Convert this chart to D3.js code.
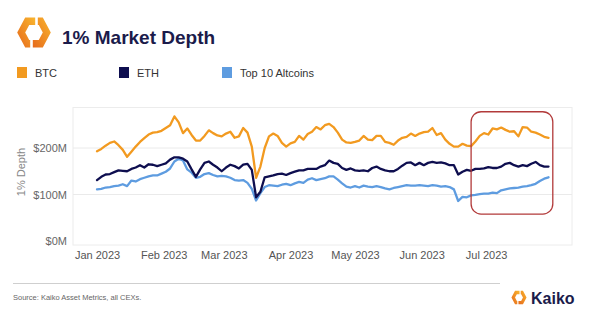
<!DOCTYPE html>
<html>
<head>
<meta charset="utf-8">
<script src="https://cdn.jsdelivr.net/npm/d3@7"></script>
<style>
  html, body { margin: 0; padding: 0; background: #fff; }
  svg { display: block; font-family: "Liberation Sans", Arial, sans-serif; }
</style>
</head>
<body>
<svg id="chart" width="600" height="328"></svg>
<script>
// ---- data (every 2 days from 1 Jan 2023) ----
const startDate = "2023-01-01";
const stepDays = 2;
const seriesNames = ["BTC", "ETH", "Top 10 Altcoins"];
const seriesColors = ["#f29a20", "#0e0e4f", "#5e9ce0"];
const btc = [193,198,205,211,214,206,196,181,192,203,213,221,229,233,234,237,243,249,268,255,
  232,242,228,216,216,226,238,232,227,225,231,235,222,225,243,233,203,136,160,200,
  225,231,226,211,203,210,213,226,218,230,235,245,240,249,252,245,233,218,212,211,
  213,216,226,218,217,226,226,213,211,207,216,222,224,231,226,231,234,235,243,228,
  232,218,209,203,203,209,205,204,214,226,232,229,242,240,244,239,235,236,225,245,
  244,235,233,229,224,222];
const eth = [131,138,143,144,148,152,151,150,155,158,163,158,165,164,161,164,167,175,180,180,
  177,171,154,138,154,168,171,164,158,150,158,164,161,156,164,166,153,94,106,137,
  139,141,144,145,142,146,149,152,152,155,155,155,160,163,173,168,166,157,153,156,
  152,151,152,150,157,160,155,152,150,150,155,162,168,169,163,168,163,168,170,168,
  169,167,163,163,143,149,153,151,155,155,156,159,157,157,160,166,168,163,160,163,
  161,166,170,163,160,160];
const alts = [111,112,115,116,118,119,122,118,130,128,133,136,139,141,141,145,149,156,171,177,
  173,154,147,136,138,144,146,142,139,140,139,136,131,130,131,125,112,87,103,116,
  120,119,118,121,123,120,124,127,125,132,135,131,133,135,139,139,132,124,117,115,
  118,115,119,117,116,118,116,113,111,114,116,118,120,119,119,120,119,118,120,119,
  117,118,116,111,86,95,94,98,99,101,102,102,104,103,109,111,113,114,115,117,
  118,120,123,129,134,137];
const yTicks = [0, 100, 200];
const xTickDates = ["2023-01-01","2023-02-01","2023-03-01","2023-04-01","2023-05-01","2023-06-01","2023-07-01"];
const highlight = { from: "2023-06-24", to: "2023-08-01", top: 278, bottom: 58 };

const parse = d3.utcParse("%Y-%m-%d");
const t0 = parse(startDate);
const dates = btc.map((_, i) => d3.utcDay.offset(t0, i * stepDays));
const allSeries = [btc, eth, alts];

const svg = d3.select("#chart");
const defs = svg.append("defs");

// ---- logo icon (hexagon ring split in two) ----
function kaikoIcon(cx, cy, s, id) {
  const lg = defs.append("linearGradient").attr("id", id)
    .attr("x1", "1").attr("y1", "0").attr("x2", "0").attr("y2", "1");
  lg.append("stop").attr("offset", "0").attr("stop-color", "#f9b52e");
  lg.append("stop").attr("offset", "1").attr("stop-color", "#e66a1c");
  const left = [[2,-15],[-8,-15],[-16,0],[-8,15],[-3,15],[-3,7.5],[-4,7.5],[-8,0],[-4,-7.5],[2,-7.5]];
  const right = left.map(([px, py]) => [-px, -py]);
  [[left, -0.8], [right, 0.8]].forEach(([p, dx]) => {
    svg.append("path")
      .attr("d", "M" + p.map(([px, py]) => [cx + (px + dx) * s, cy + py * s].join(",")).join("L") + "Z")
      .attr("fill", `url(#${id})`);
  });
}
kaikoIcon(34, 32.5, 1, "kgTop");

svg.append("text").attr("x", 62).attr("y", 44)
  .attr("font-size", 19).attr("font-weight", "bold").attr("fill", "#1b1b4b")
  .text("1% Market Depth");

// ---- legend ----
const legendX = [17, 119, 222];
const leg = svg.append("g");
seriesNames.forEach((n, i) => {
  leg.append("rect").attr("x", legendX[i]).attr("y", 67).attr("width", 10).attr("height", 11)
    .attr("fill", seriesColors[i]);
  leg.append("text").attr("x", legendX[i] + 18).attr("y", 76.5)
    .attr("font-size", 11).attr("fill", "#333").text(n);
});

// ---- scales ----
const x = d3.scaleUtc().domain([t0, d3.utcDay.offset(t0, 210)]).range([97, 548.5]);
const y = d3.scaleLinear().domain([0, 200]).range([241, 148]);

// plot frame
svg.append("rect").attr("x", 73).attr("y", 107.5).attr("width", 499).attr("height", 137.5)
  .attr("fill", "none").attr("stroke", "#ececec").attr("stroke-width", 1);

// gridlines + y labels
const yAxis = d3.axisLeft(y).tickValues(yTicks).tickSize(0).tickPadding(6)
  .tickFormat(d => "$" + d + "M");
const gy = svg.append("g").attr("transform", "translate(73,0)").call(yAxis);
gy.select(".domain").remove();
gy.selectAll("text").attr("font-size", 11).attr("fill", "#666")
  .attr("font-family", "Liberation Sans, Arial, sans-serif");
svg.append("g").selectAll("line").data(yTicks.filter(d => d > 0)).join("line")
  .attr("x1", 73).attr("x2", 572).attr("y1", d => y(d)).attr("y2", d => y(d))
  .attr("stroke", "#eaeaea").attr("stroke-width", 1);

svg.append("text").attr("transform", "translate(25,172) rotate(-90)")
  .attr("text-anchor", "middle").attr("font-size", 11).attr("fill", "#888").text("1% Depth");

// x axis labels
const xAxis = d3.axisBottom(x).tickValues(xTickDates.map(parse)).tickSize(0).tickPadding(0)
  .tickFormat(d3.utcFormat("%b %Y"));
const gx = svg.append("g").attr("transform", "translate(0,251)").call(xAxis);
gx.select(".domain").remove();
gx.selectAll("text").attr("font-size", 11).attr("fill", "#555")
  .attr("font-family", "Liberation Sans, Arial, sans-serif");

// ---- lines ----
const line = d3.line().x((d, i) => x(dates[i])).y(d => y(d)).curve(d3.curveLinear);
[2, 1, 0].forEach(si => {
  svg.append("path").datum(allSeries[si]).attr("d", line)
    .attr("fill", "none").attr("stroke", seriesColors[si]).attr("stroke-width", 2.3)
    .attr("stroke-linejoin", "round").attr("stroke-linecap", "round");
});

// ---- highlight box ----
const hx0 = x(parse(highlight.from)), hx1 = x(parse(highlight.to));
svg.append("rect").attr("x", hx0).attr("y", y(highlight.top))
  .attr("width", hx1 - hx0).attr("height", y(highlight.bottom) - y(highlight.top))
  .attr("rx", 10).attr("fill", "none").attr("stroke", "#b23a3a").attr("stroke-width", 1.3);

// ---- footer ----
svg.append("line").attr("x1", 13).attr("x2", 500).attr("y1", 283.5).attr("y2", 283.5)
  .attr("stroke", "#cfcfcf").attr("stroke-width", 1);
svg.append("text").attr("x", 13).attr("y", 300).attr("font-size", 7.5).attr("fill", "#666")
  .text("Source: Kaiko Asset Metrics, all CEXs.");
kaikoIcon(519, 297.5, 0.45, "kgFoot");
svg.append("text").attr("x", 531).attr("y", 303.5).attr("font-size", 16).attr("font-weight", "bold")
  .attr("fill", "#1b1b4b").text("Kaiko");
</script>
</body>
</html>
